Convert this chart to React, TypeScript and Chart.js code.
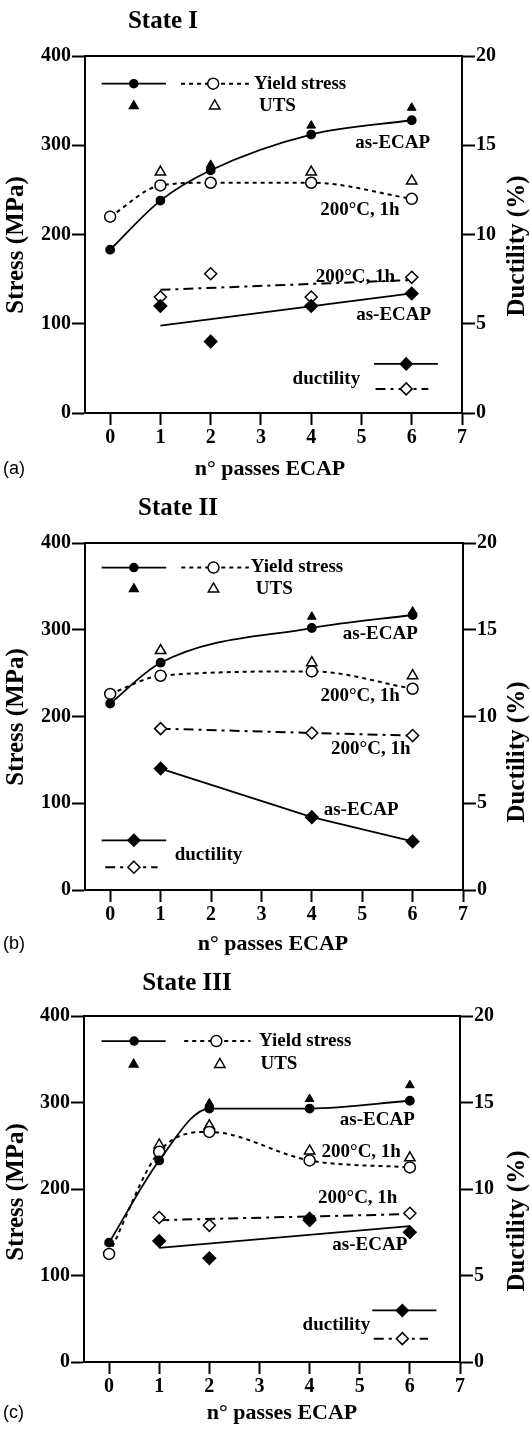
import React, { useEffect, useRef } from 'react';
import { Chart, registerables } from 'chart.js';

Chart.register(...registerables);

// ---------- shared axes ----------
const passes = [0, 1, 2, 4, 6];
const xTicks = [0, 1, 2, 3, 4, 5, 6, 7];
const stressTicks = [0, 100, 200, 300, 400];
const ductTicks = [0, 5, 10, 15, 20];
const fitPasses = [1, 6];

// ---------- State I ----------
const yieldEcapI = [183, 238, 272, 312, 328];
const utsEcapI = [null, null, 278, 322, 342];
const yieldAnnI = [220, 255, 258, 258, 240];
const utsAnnI = [null, 270, null, 270, 260];
const ductEcapI = [null, 6.0, 4.0, 6.0, 6.7];
const ductAnnI = [null, 6.5, 7.8, 6.5, 7.6];
const ductEcapFitI = [4.9, 6.7];
const ductAnnFitI = [6.9, 7.45];

// ---------- State II ----------
const yieldEcapII = [215, 262, null, 302, 317];
const utsEcapII = [null, null, null, 315, 321];
const yieldAnnII = [226, 247, null, 252, 232];
const utsAnnII = [null, 276, null, 262, 247];
const ductEcapII = [null, 7.0, null, 4.2, 2.8];
const ductAnnII = [null, 9.3, null, 9.05, 8.9];

// ---------- State III ----------
const yieldEcapIII = [138, 233, 293, 293, 302];
const utsEcapIII = [null, null, 299, 304, 320];
const yieldAnnIII = [125, 243, 266, 233, 225];
const utsAnnIII = [null, 251, 273, 244, 236];
const ductEcapIII = [null, 7.0, 6.0, 8.2, 7.5];
const ductAnnIII = [null, 8.35, 7.9, 8.3, 8.6];
const ductEcapFitIII = [6.6, 7.85];
const ductAnnFitIII = [8.2, 8.55];

const SERIF = '"Liberation Serif", "Times New Roman", serif';
const tickFont = { family: SERIF, size: 20, weight: 'bold' as const };

type Pt = { x: number; y: number };
const pts = (xs: number[], ys: (number | null)[]): Pt[] =>
  xs.map((x, i) => ({ x, y: ys[i] as number })).filter((p) => p.y !== null && p.y !== undefined);

type Ann = { text: string; x: number; y: number };
type PanelCfg = {
  top: number;
  H: number;
  area: { left: number; right: number; top: number; bottom: number };
  title: string;
  titlePos: [number, number];
  letter: string;
  xTitleY: number;
  xTitleX: number;
  yTitleY: number;
  y2TitleY: number;
  yieldEcap: (number | null)[];
  utsEcap: (number | null)[];
  yieldAnn: (number | null)[];
  utsAnn: (number | null)[];
  ductEcap: (number | null)[];
  ductAnn: (number | null)[];
  ductEcapFit: number[] | null;
  ductAnnFit: number[] | null;
  anns: Ann[];
  legTop: { y1: number; y2: number; solid: [number, number, number]; dotted: [number, number, number]; text1: number; ftri: number; otri: number; text2: number };
  legDuct: { y1: number; y2: number; ty: number; solid: [number, number, number]; dash: [number, number, number]; tx: number };
};

const panels: PanelCfg[] = [
  {
    top: 0, H: 480,
    area: { left: 85, right: 462, top: 56, bottom: 413 },
    title: 'State I', titlePos: [163, 22], letter: '(a)',
    xTitleX: 270, xTitleY: 469, yTitleY: 245, y2TitleY: 246,
    yieldEcap: yieldEcapI, utsEcap: utsEcapI, yieldAnn: yieldAnnI, utsAnn: utsAnnI,
    ductEcap: ductEcapI, ductAnn: ductAnnI, ductEcapFit: ductEcapFitI, ductAnnFit: ductAnnFitI,
    anns: [
      { text: 'as-ECAP', x: 5.62, y: 302 },
      { text: '200°C, 1h', x: 4.97, y: 227 },
      { text: '200°C, 1h', x: 4.88, y: 152 },
      { text: 'as-ECAP', x: 5.64, y: 110 },
    ],
    legTop: { y1: 369, y2: 344, solid: [-0.17, 1.11, 0.47], dotted: [1.41, 2.76, 2.05], text1: 2.86, ftri: 0.47, otri: 2.08, text2: 2.96 },
    legDuct: { y1: 55, y2: 27, ty: 38.5, solid: [5.25, 6.52, 5.89], dash: [5.28, 6.33, 5.89], tx: 3.63 },
  },
  {
    top: 480, H: 480,
    area: { left: 85, right: 463, top: 63, bottom: 410 },
    title: 'State II', titlePos: [178, 29], letter: '(b)',
    xTitleX: 273, xTitleY: 464, yTitleY: 237, y2TitleY: 272,
    yieldEcap: yieldEcapII, utsEcap: utsEcapII, yieldAnn: yieldAnnII, utsAnn: utsAnnII,
    ductEcap: ductEcapII, ductAnn: ductAnnII, ductEcapFit: null, ductAnnFit: null,
    anns: [
      { text: 'as-ECAP', x: 5.36, y: 295 },
      { text: '200°C, 1h', x: 4.96, y: 224 },
      { text: '200°C, 1h', x: 5.17, y: 162 },
      { text: 'as-ECAP', x: 4.98, y: 92 },
    ],
    legTop: { y1: 371.7, y2: 347, solid: [-0.17, 1.11, 0.47], dotted: [1.41, 2.75, 2.05], text1: 2.79, ftri: 0.47, otri: 2.05, text2: 2.89 },
    legDuct: { y1: 57.3, y2: 26.3, ty: 40, solid: [-0.17, 1.11, 0.47], dash: [-0.1, 0.94, 0.47], tx: 1.28 },
  },
  {
    top: 960, H: 469,
    area: { left: 84, right: 460, top: 56, bottom: 402 },
    title: 'State III', titlePos: [187, 24], letter: '(c)',
    xTitleX: 282, xTitleY: 453, yTitleY: 232, y2TitleY: 261,
    yieldEcap: yieldEcapIII, utsEcap: utsEcapIII, yieldAnn: yieldAnnIII, utsAnn: utsAnnIII,
    ductEcap: ductEcapIII, ductAnn: ductAnnIII, ductEcapFit: ductEcapFitIII, ductAnnFit: ductAnnFitIII,
    anns: [
      { text: 'as-ECAP', x: 5.35, y: 280 },
      { text: '200°C, 1h', x: 5.03, y: 243 },
      { text: '200°C, 1h', x: 4.96, y: 190 },
      { text: 'as-ECAP', x: 5.2, y: 135 },
    ],
    legTop: { y1: 371, y2: 344, solid: [-0.15, 1.13, 0.5], dotted: [1.5, 2.82, 2.14], text1: 2.99, ftri: 0.49, otri: 2.21, text2: 3.02 },
    legDuct: { y1: 59.6, y2: 27, ty: 43, solid: [5.25, 6.53, 5.85], dash: [5.28, 6.36, 5.85], tx: 3.86 },
  },
];

const DOTTED = [4, 4];
const DASHDOT = [10, 5, 3, 5];

function drawMarker(ctx: CanvasRenderingContext2D, kind: string, x: number, y: number) {
  ctx.save();
  ctx.lineWidth = 1.5;
  ctx.strokeStyle = '#000';
  ctx.setLineDash([]);
  ctx.beginPath();
  const filled = kind[0] === 'f';
  if (kind.endsWith('circle')) {
    ctx.arc(x, y, filled ? 4 : 5.5, 0, Math.PI * 2);
  } else if (kind.endsWith('tri')) {
    const r = filled ? 5 : 6;
    ctx.moveTo(x, y - r);
    ctx.lineTo(x + r * 0.866, y + r * 0.5);
    ctx.lineTo(x - r * 0.866, y + r * 0.5);
    ctx.closePath();
  } else {
    const r = 6;
    ctx.moveTo(x, y - r);
    ctx.lineTo(x + r, y);
    ctx.lineTo(x, y + r);
    ctx.lineTo(x - r, y);
    ctx.closePath();
  }
  ctx.fillStyle = filled ? '#000' : '#fff';
  ctx.fill();
  ctx.stroke();
  ctx.restore();
}

function seg(ctx: CanvasRenderingContext2D, x1: number, x2: number, y: number, dash: number[], w = 1.8) {
  ctx.save();
  ctx.strokeStyle = '#000';
  ctx.lineWidth = w;
  ctx.setLineDash(dash);
  ctx.beginPath();
  ctx.moveTo(x1, y);
  ctx.lineTo(x2, y);
  ctx.stroke();
  ctx.restore();
}

function Panel({ cfg }: { cfg: PanelCfg }) {
  const ref = useRef<HTMLCanvasElement>(null);
  useEffect(() => {
    const c = cfg;
    const datasets: any[] = [
      {
        label: 'Yield stress as-ECAP', data: pts(passes, c.yieldEcap), yAxisID: 'y',
        borderColor: '#000', borderWidth: 1.8, cubicInterpolationMode: 'monotone',
        pointStyle: 'circle', pointRadius: 4, pointBackgroundColor: '#000', pointBorderColor: '#000',
      },
      {
        label: 'UTS as-ECAP', data: pts(passes, c.utsEcap), yAxisID: 'y', showLine: false,
        pointStyle: 'triangle', pointRadius: 5, pointBackgroundColor: '#000', pointBorderColor: '#000',
      },
      {
        label: 'Yield stress 200°C, 1h', data: pts(passes, c.yieldAnn), yAxisID: 'y',
        borderColor: '#000', borderWidth: 2, borderDash: DOTTED, cubicInterpolationMode: 'monotone',
        pointStyle: 'circle', pointRadius: 5.5, pointBackgroundColor: '#fff', pointBorderColor: '#000', pointBorderWidth: 1.5,
      },
      {
        label: 'UTS 200°C, 1h', data: pts(passes, c.utsAnn), yAxisID: 'y', showLine: false,
        pointStyle: 'triangle', pointRadius: 6, pointBackgroundColor: '#fff', pointBorderColor: '#000', pointBorderWidth: 1.5,
      },
      {
        label: 'ductility as-ECAP', data: pts(passes, c.ductEcap), yAxisID: 'y2',
        showLine: !c.ductEcapFit, borderColor: '#000', borderWidth: 1.8,
        pointStyle: 'rectRot', pointRadius: 6, pointBackgroundColor: '#000', pointBorderColor: '#000',
      },
      {
        label: 'ductility 200°C, 1h', data: pts(passes, c.ductAnn), yAxisID: 'y2',
        showLine: !c.ductAnnFit, borderColor: '#000', borderWidth: 2, borderDash: DASHDOT,
        pointStyle: 'rectRot', pointRadius: 6, pointBackgroundColor: '#fff', pointBorderColor: '#000', pointBorderWidth: 1.5,
      },
    ];
    if (c.ductEcapFit) {
      datasets.push({
        label: 'ductility as-ECAP fit', data: pts(fitPasses, c.ductEcapFit), yAxisID: 'y2',
        borderColor: '#000', borderWidth: 1.8, pointRadius: 0,
      });
    }
    if (c.ductAnnFit) {
      datasets.push({
        label: 'ductility 200°C fit', data: pts(fitPasses, c.ductAnnFit), yAxisID: 'y2',
        borderColor: '#000', borderWidth: 2, borderDash: DASHDOT, pointRadius: 0,
      });
    }

    const decor = {
      id: 'decor',
      afterDraw(chart: any) {
        const ctx: CanvasRenderingContext2D = chart.ctx;
        const xs = chart.scales.x;
        const ys = chart.scales.y;
        const a = chart.chartArea;
        const px = (v: number) => xs.getPixelForValue(v);
        const py = (v: number) => ys.getPixelForValue(v);
        ctx.save();
        // top frame line
        ctx.strokeStyle = '#000';
        ctx.lineWidth = 2;
        ctx.beginPath();
        ctx.moveTo(a.left - 1, a.top);
        ctx.lineTo(a.right + 1, a.top);
        ctx.stroke();

        ctx.fillStyle = '#000';
        ctx.textBaseline = 'middle';
        // panel title
        ctx.font = `bold 25px ${SERIF}`;
        ctx.textAlign = 'center';
        ctx.fillText(c.title, c.titlePos[0], c.titlePos[1]);
        // x title
        ctx.font = `bold 22px ${SERIF}`;
        ctx.fillText('n° passes ECAP', c.xTitleX, c.xTitleY);
        // panel letter
        ctx.font = `18px "Liberation Sans", Arial, sans-serif`;
        ctx.textAlign = 'left';
        ctx.fillText(c.letter, 3, c.xTitleY);
        // y titles
        ctx.font = `bold 25px ${SERIF}`;
        ctx.textAlign = 'center';
        ctx.save();
        ctx.translate(17, c.yTitleY);
        ctx.rotate(-Math.PI / 2);
        ctx.fillText('Stress (MPa)', 0, 0);
        ctx.restore();
        ctx.save();
        ctx.translate(518, c.y2TitleY);
        ctx.rotate(-Math.PI / 2);
        ctx.fillText('Ductility (%)', 0, 0);
        ctx.restore();

        // annotations
        ctx.font = `bold 19px ${SERIF}`;
        ctx.textAlign = 'center';
        c.anns.forEach((t) => ctx.fillText(t.text, px(t.x), py(t.y)));

        // legend (stress)
        const L = c.legTop;
        seg(ctx, px(L.solid[0]), px(L.solid[1]), py(L.y1), []);
        drawMarker(ctx, 'fcircle', px(L.solid[2]), py(L.y1));
        seg(ctx, px(L.dotted[0]), px(L.dotted[1]), py(L.y1), DOTTED, 2);
        drawMarker(ctx, 'ocircle', px(L.dotted[2]), py(L.y1));
        drawMarker(ctx, 'ftri', px(L.ftri), py(L.y2));
        drawMarker(ctx, 'otri', px(L.otri), py(L.y2));
        ctx.textAlign = 'left';
        ctx.fillStyle = '#000';
        ctx.font = `bold 19px ${SERIF}`;
        ctx.fillText('Yield stress', px(L.text1), py(L.y1));
        ctx.fillText('UTS', px(L.text2), py(L.y2));

        // legend (ductility)
        const D = c.legDuct;
        seg(ctx, px(D.solid[0]), px(D.solid[1]), py(D.y1), []);
        drawMarker(ctx, 'fdiam', px(D.solid[2]), py(D.y1));
        seg(ctx, px(D.dash[0]), px(D.dash[1]), py(D.y2), DASHDOT, 2);
        drawMarker(ctx, 'odiam', px(D.dash[2]), py(D.y2));
        ctx.fillStyle = '#000';
        ctx.font = `bold 19px ${SERIF}`;
        ctx.textAlign = 'left';
        ctx.fillText('ductility', px(D.tx), py(D.ty));
        ctx.restore();
      },
    };

    const axisCommon = (ticksArr: number[]) => ({
      afterBuildTicks: (s: any) => {
        s.ticks = ticksArr.map((v) => ({ value: v }));
      },
    });

    const chart = new Chart(ref.current as HTMLCanvasElement, {
      type: 'line',
      data: { datasets },
      plugins: [decor],
      options: {
        animation: false,
        responsive: false,
        devicePixelRatio: 1,
        layout: { padding: { top: c.area.top, left: 0, right: 0, bottom: 0 } },
        plugins: { legend: { display: false }, title: { display: false }, tooltip: { enabled: false } },
        elements: { line: { tension: 0 } },
        scales: {
          x: {
            type: 'linear', min: -0.5, max: 7,
            ...axisCommon(xTicks),
            afterFit: (s: any) => { s.height = c.H - c.area.bottom; },
            grid: { drawOnChartArea: false, drawTicks: true, tickLength: 12, tickWidth: 2, tickColor: '#000' },
            border: { display: true, color: '#000', width: 2 },
            ticks: { font: tickFont, color: '#000', padding: 1, maxRotation: 0, autoSkip: false },
          },
          y: {
            type: 'linear', position: 'left', min: 0, max: 400,
            ...axisCommon(stressTicks),
            afterFit: (s: any) => { s.width = c.area.left; },
            grid: { drawOnChartArea: false, drawTicks: true, tickLength: 13, tickWidth: 2, tickColor: '#000' },
            border: { display: true, color: '#000', width: 2 },
            ticks: { font: tickFont, color: '#000', padding: 1 },
          },
          y2: {
            type: 'linear', position: 'right', min: 0, max: 20,
            ...axisCommon(ductTicks),
            afterFit: (s: any) => { s.width = 530 - c.area.right; },
            grid: { drawOnChartArea: false, drawTicks: true, tickLength: 13, tickWidth: 2, tickColor: '#000' },
            border: { display: true, color: '#000', width: 2 },
            ticks: { font: tickFont, color: '#000', padding: 1 },
          },
        },
      } as any,
    });
    return () => chart.destroy();
  }, [cfg]);
  return (
    <canvas
      ref={ref}
      width={530}
      height={cfg.H}
      style={{ position: 'absolute', left: 0, top: cfg.top, width: 530, height: cfg.H, display: 'block' }}
    />
  );
}

export default function App() {
  return (
    <div style={{ position: 'absolute', left: 0, top: 0, width: 530, height: 1429, background: '#fff' }}>
      {panels.map((p, i) => (
        <Panel key={i} cfg={p} />
      ))}
    </div>
  );
}
